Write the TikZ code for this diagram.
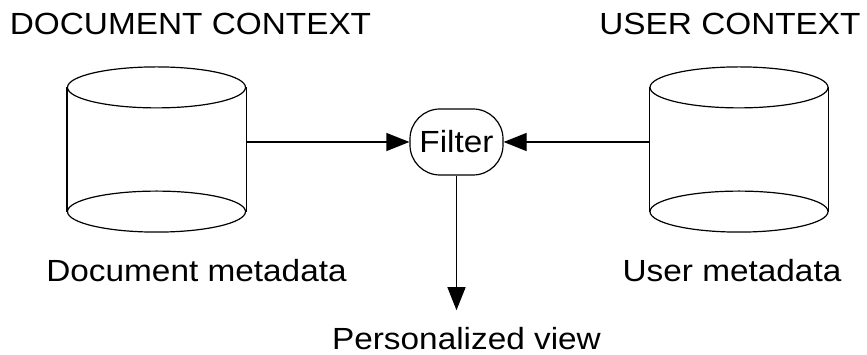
\documentclass[tikz,border=0pt]{standalone}
\usepackage{fontspec}
\setmainfont{Liberation Sans}[FakeStretch=1.09]
\usetikzlibrary{positioning, arrows.meta}

\begin{document}
\begin{tikzpicture}[x=1pt,y=1pt,on grid,line width=1.2pt,
    font=\fontsize{30.6}{36}\selectfont]
  \tikzset{arr/.style={-{Triangle[length=23pt,width=18pt]}},
           db/.style={minimum width=178pt,minimum height=123pt,inner sep=0pt},
           filt/.style={draw,rectangle,rounded corners=30pt,minimum width=93pt,
                        minimum height=66pt,inner sep=0pt},
           lbl/.style={anchor=base,inner sep=0pt}}
  \useasboundingbox (0,0) rectangle (867,355);

  \node[filt]  (filter)  at (456.5,213)                                {Filter};
  \node[db]    (doc_db)  [below left  = 7.5pt and 300pt   of filter] {};
  \node[db]    (user_db) [below right = 7.5pt and 282.5pt of filter] {};

  % cylinders
  \draw (doc_db.north west) -- (doc_db.south west)
        (doc_db.north east) -- (doc_db.south east);
  \draw (doc_db.north) ellipse [x radius=89pt,y radius=20.5pt];
  \draw (doc_db.south) ellipse [x radius=89pt,y radius=20.5pt];
  \draw (user_db.north west) -- (user_db.south west)
        (user_db.north east) -- (user_db.south east);
  \draw (user_db.north) ellipse [x radius=89pt,y radius=20.5pt];
  \draw (user_db.south) ellipse [x radius=89pt,y radius=20.5pt];

  \node[lbl] (doc_ctx)   at (190.5,320) {DOCUMENT CONTEXT};
  \node[lbl] (user_ctx)  at (730,320)   {USER CONTEXT};
  \node[lbl] (doc_meta)  at (196.5,73)  {Document metadata};
  \node[lbl] (user_meta) at (732,73)    {User metadata};
  \node[lbl] (view)      at (466.5,5)   {Personalized view};

  \draw[arr] (doc_db.east |- filter.west)   -- (filter.west);
  \draw[arr] (user_db.west |- filter.east)  -- (filter.east);
  \draw[arr,shorten >=17pt] (filter.south) -- (filter.south |- view.north);
\end{tikzpicture}
\end{document}
